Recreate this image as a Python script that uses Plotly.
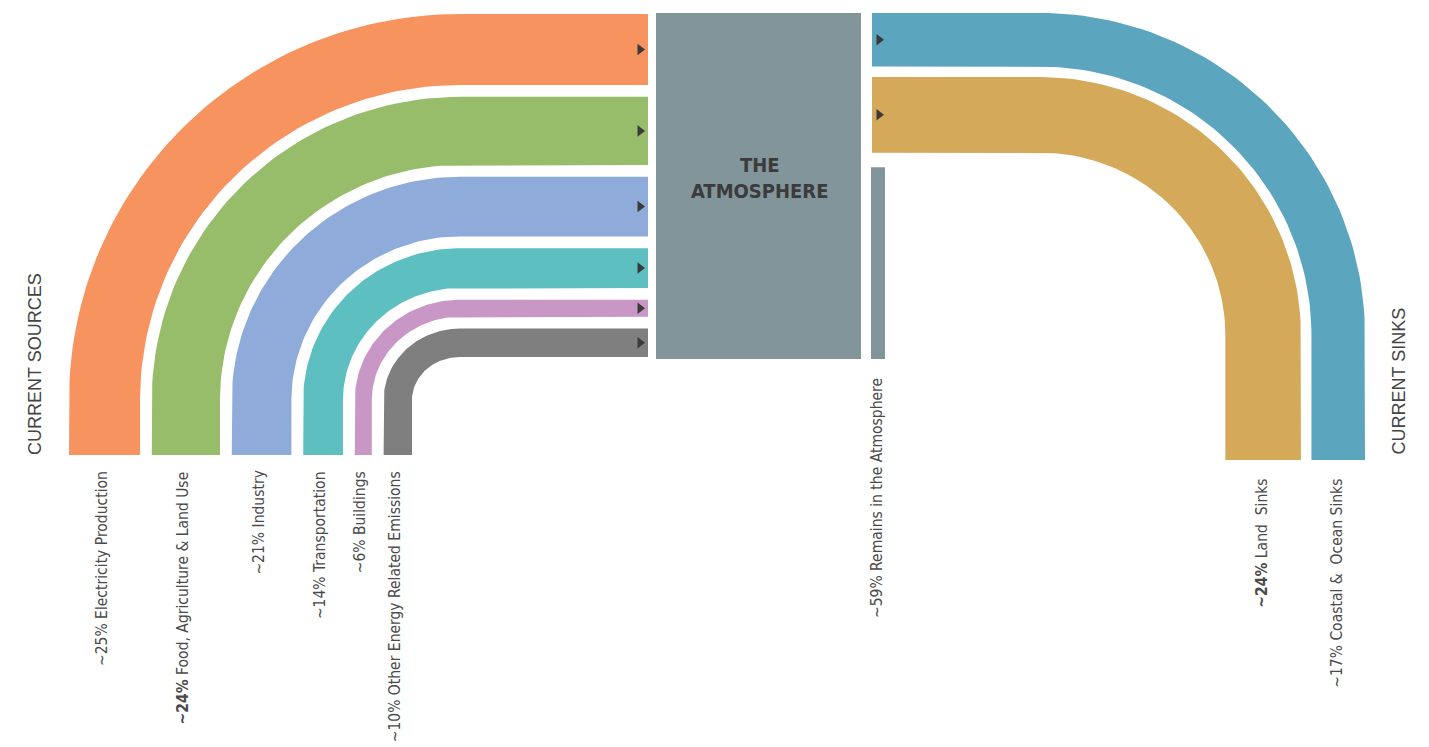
import numpy as np
import plotly.graph_objects as go

# ---------------- data ----------------
source_labels = ["~25% Electricity Production", "<b>~24%</b> Food, Agriculture & Land Use",
                 "~21% Industry", "~14% Transportation", "~6% Buildings",
                 "~10% Other Energy Related Emissions"]
source_values = [25, 24, 21, 14, 6, 10]
source_colors = ["#F7935E", "#97BC6A", "#8EABDA", "#5EBFC1", "#C897C5", "#7F7F7F"]

sink_labels = ["~17% Coastal &  Ocean Sinks", "<b>~24%</b> Land  Sinks"]
sink_values = [17, 24]
sink_colors = ["#5CA5BE", "#D4A95A"]

remain_label = "~59% Remains in the Atmosphere"
remain_value = 59

# ---------------- layout constants ----------------
W, H = 1429, 747
PAGE_MARGIN = 8  # default body margin of the html page
LABEL_FONT = "DejaVu Sans Condensed, Liberation Sans Narrow, Liberation Sans, sans-serif"
LABEL_SIZE = 15.5
TEXT_COLOR = "#4a4a4a"

SRC_SCALE, SRC_GAP = 2.84, 11.8
SRC_LEFT, SRC_TOP, SRC_CX, SRC_CY = 69, 14, 460, 400
SRC_BOTTOM, SRC_RIGHT = 455, 648

SNK_SCALE, SNK_GAP = 3.15, 10.5
SNK_RIGHT, SNK_TOP, SNK_CX, SNK_CY = 1365, 13, 1040, 335
SNK_BOTTOM, SNK_LEFT = 460, 872

ATM_X0, ATM_X1, ATM_Y0, ATM_Y1 = 656, 861, 13, 359
REM_X0, REM_X1, REM_SCALE = 871, 885, 3.25

fig = go.Figure()
t = np.linspace(0, np.pi / 2, 60)


def band_path(side, offset, w, edge_x, top, cx, cy, bottom, end_x):
    # side = -1 : curve on the left (sources); +1 : curve on the right (sinks)
    xo = edge_x - side * offset          # outer vertical edge
    yo = top + offset                    # outer horizontal edge
    xi = xo - side * w                   # inner vertical edge
    rxo, ryo = abs(cx - xo), cy - yo
    rxi, ryi = rxo - w, ryo - w
    xs, ys = [xo, xo], [bottom, cy]
    xs += list(cx + side * rxo * np.cos(t)); ys += list(cy - ryo * np.sin(t))
    xs += [end_x, end_x]; ys += [yo, yo + w]
    xs += list(cx + side * rxi * np.cos(t[::-1])); ys += list(cy - ryi * np.sin(t[::-1]))
    xs += [xi, xi]; ys += [cy, bottom]
    return xs, ys, (xo + xi) / 2, yo + w / 2


arrow_x, arrow_y = [], []

# sources (curve on the left)
off = 0
for lab, v, c in zip(source_labels, source_values, source_colors):
    w = v * SRC_SCALE
    xs, ys, xc, yc = band_path(-1, off, w, SRC_LEFT, SRC_TOP, SRC_CX, SRC_CY, SRC_BOTTOM, SRC_RIGHT)
    fig.add_trace(go.Scatter(x=xs, y=ys, fill="toself", fillcolor=c, mode="lines",
                             line=dict(width=0, color=c), hoverinfo="skip", showlegend=False))
    arrow_x.append(SRC_RIGHT - 8); arrow_y.append(yc)
    fig.add_annotation(x=xc - 3, y=SRC_BOTTOM + 14, text=lab, textangle=-90, showarrow=False,
                       xanchor="center", yanchor="top",
                       font=dict(family=LABEL_FONT, size=LABEL_SIZE, color=TEXT_COLOR))
    off += w + SRC_GAP

# sinks (curve on the right)
off = 0
for lab, v, c in zip(sink_labels, sink_values, sink_colors):
    w = v * SNK_SCALE
    xs, ys, xc, yc = band_path(1, off, w, SNK_RIGHT, SNK_TOP, SNK_CX, SNK_CY, SNK_BOTTOM, SNK_LEFT)
    fig.add_trace(go.Scatter(x=xs, y=ys, fill="toself", fillcolor=c, mode="lines",
                             line=dict(width=0, color=c), hoverinfo="skip", showlegend=False))
    arrow_x.append(SNK_LEFT + 7); arrow_y.append(yc)
    fig.add_annotation(x=xc - 2, y=SNK_BOTTOM + 17, text=lab, textangle=-90, showarrow=False,
                       xanchor="center", yanchor="top",
                       font=dict(family=LABEL_FONT, size=LABEL_SIZE, color=TEXT_COLOR))
    off += w + SNK_GAP

# atmosphere block
fig.add_trace(go.Scatter(x=[ATM_X0, ATM_X1, ATM_X1, ATM_X0, ATM_X0],
                         y=[ATM_Y0, ATM_Y0, ATM_Y1, ATM_Y1, ATM_Y0],
                         fill="toself", fillcolor="#82959B", mode="lines",
                         line=dict(width=0, color="#82959B"), hoverinfo="skip", showlegend=False))
rem_top = ATM_Y1 - remain_value * REM_SCALE
fig.add_trace(go.Scatter(x=[REM_X0, REM_X1, REM_X1, REM_X0, REM_X0],
                         y=[rem_top, rem_top, ATM_Y1, ATM_Y1, rem_top],
                         fill="toself", fillcolor="#82959B", mode="lines",
                         line=dict(width=0, color="#82959B"), hoverinfo="skip", showlegend=False))
fig.add_annotation(x=(REM_X0 + REM_X1) / 2 - 1, y=ATM_Y1 + 17, text=remain_label, textangle=-90,
                   showarrow=False, xanchor="center", yanchor="top",
                   font=dict(family=LABEL_FONT, size=LABEL_SIZE, color=TEXT_COLOR))
fig.add_annotation(x=(ATM_X0 + ATM_X1) / 2 + 1, y=178, text="<b>THE<br>ATMOSPHERE</b>",
                   showarrow=False, xanchor="center", yanchor="middle",
                   font=dict(family=LABEL_FONT, size=20, color="#3b3b3b"))

# arrows
fig.add_trace(go.Scatter(x=arrow_x, y=arrow_y, mode="markers",
                         marker=dict(symbol="triangle-right", size=10, color="#3a3a3a"),
                         hoverinfo="skip", showlegend=False))

# side titles
fig.add_annotation(x=35, y=SRC_BOTTOM + 2, text="CURRENT SOURCES", textangle=-90, showarrow=False,
                   xanchor="center", yanchor="bottom",
                   font=dict(family="Liberation Sans, Arial, sans-serif", size=18, color="#444444"))
fig.add_annotation(x=1398, y=SRC_BOTTOM + 2, text="CURRENT SINKS", textangle=-90, showarrow=False,
                   xanchor="center", yanchor="bottom",
                   font=dict(family="Liberation Sans, Arial, sans-serif", size=18, color="#444444"))

fig.update_layout(width=W - PAGE_MARGIN, height=H - PAGE_MARGIN,
                  margin=dict(l=0, r=0, t=0, b=0),
                  paper_bgcolor="white", plot_bgcolor="white",
                  xaxis=dict(range=[PAGE_MARGIN, W], visible=False, fixedrange=True),
                  yaxis=dict(range=[H, PAGE_MARGIN], visible=False, fixedrange=True))

fig.write_html("out.html")
